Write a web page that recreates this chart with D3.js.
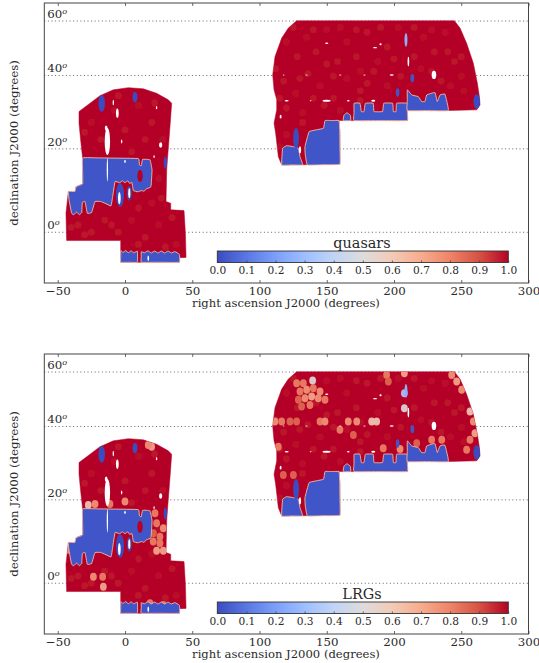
<!DOCTYPE html>
<html>
<head>
<meta charset="utf-8">
<script src="https://cdn.jsdelivr.net/npm/d3@7"></script>
<style>
  body { margin: 0; background: #fff; }
  svg { display: block; }
  text { font-family: "DejaVu Serif", serif; fill: #2a2a2a; }
</style>
</head>
<body>
<svg id="chart" width="539" height="663"></svg>
<script>
// everything is [ra degrees, sin(dec)] because the original y axis is linear in sin(dec)
const raTicks = [-50, 0, 50, 100, 150, 200, 250, 300];
const decTicks = [60, 40, 20, 0];
const barTicks = [0, 0.1, 0.2, 0.3, 0.4, 0.5, 0.6, 0.7, 0.8, 0.9, 1];
const coolwarm = ["#3b4cc0", "#5977e3", "#7b9ff9", "#9ebeff", "#c0d4f5", "#dddcdc", "#f2cbb7", "#f7ac8e", "#ee8468", "#d65244", "#b40426"];

const footprintSouth = [[-34.2,.495],[-26,.529],[-18.6,.56],[-8.7,.584],[2.5,.593],[13.6,.588],[23.5,.57],[32.2,.543],[34.7,.529],[34,.474],[32.7,.379],[31.7,.31],[31,.256],[30.5,.126],[34,.119],[34,.092],[43.9,.089],[44.9,-.004],[45.4,-.103],[40.4,-.104],[40.4,-.123],[-3.2,-.123],[-3.2,-.034],[-43.4,-.034],[-43.9,.078],[-42.1,.167],[-37.2,.167],[-36.4,.187],[-31.5,.198],[-31.5,.303],[-33,.379],[-34.2,.447]];
const footprintNorth = [[127.6,.867],[244.9,.867],[249.1,.837],[254,.775],[259,.693],[262,.611],[263.5,.556],[264,.522],[261.5,.502],[240.4,.499],[209.9,.499],[209.9,.458],[159.1,.458],[159.8,.406],[159.8,.279],[116.5,.276],[114,.31],[112,.406],[110.8,.447],[112.8,.502],[112.8,.543],[110.8,.584],[109.8,.645],[111.5,.72],[116.5,.796],[121.4,.837]];

const blueRegions = [
  [[-31.5,.305],[-20,.305],[-8,.304],[9.9,.302],[10.7,.276],[12.1,.273],[13.1,.299],[18.6,.297],[20.1,.256],[19.3,.187],[16,.178],[14,.168],[12.4,.171],[9.5,.166],[6.2,.171],[5.2,.204],[3.5,.2],[2,.211],[0,.203],[-2,.211],[-4,.203],[-7.4,.208],[-9.2,.146],[-10.4,.108],[-14.9,.119],[-18,.126],[-22.3,.126],[-24.8,.081],[-28,.078],[-29.7,.126],[-31.7,.122],[-32.2,.081],[-34,.072],[-36,.083],[-38,.072],[-39.7,.078],[-41.6,.133],[-42.1,.167],[-37.2,.167],[-36.4,.187],[-31.5,.198],[-31.5,.25]],
  [[-3.2,-.075],[-1.5,-.083],[.5,-.075],[2.5,-.084],[4.5,-.076],[6.5,-.084],[9.2,-.078],[9.2,-.123],[3,-.123],[-3.2,-.123],[-3.2,-.1]],
  [[12.1,-.08],[14.5,-.084],[17,-.076],[19.5,-.085],[22,-.077],[24.5,-.085],[27,-.077],[29.5,-.085],[32,-.077],[34.5,-.085],[37,-.079],[40.4,-.09],[40.4,-.123],[25,-.123],[12.1,-.123],[12.1,-.1]],
  [[148.7,.458],[154,.458],[159.1,.458],[159.6,.42],[159.8,.35],[159.8,.279],[148,.277],[135.6,.276],[134,.32],[133.8,.351],[137,.413],[147.5,.426]],
  [[116.5,.276],[117.2,.344],[120.2,.355],[125.2,.351],[129,.344],[130.1,.31],[132.1,.276],[124,.276]],
  [[170.3,.529],[174.7,.529],[175.7,.495],[177.7,.495],[178.7,.529],[184.6,.529],[185.1,.495],[191.5,.495],[192.4,.529],[199,.529],[199.5,.495],[201.5,.495],[202,.529],[209.9,.529],[209.9,.49],[209.9,.458],[190,.458],[170.3,.458],[170.3,.49]],
  [[162.3,.458],[162.8,.48],[165,.49],[167.5,.48],[167.8,.458]],
  [[209.9,.584],[213.2,.563],[218.1,.556],[220.5,.536],[223,.536],[224.3,.563],[230.4,.573],[232.2,.536],[234.2,.563],[237.9,.566],[240.4,.499],[225,.499],[209.9,.499],[209.9,.54]]
];

// ellipses: ra, sin(dec), ra radius, sin(dec) radius, colour value
const spots = [
  [-3.7,.153,3,.048,0],[3.2,.16,1.7,.03,0],[11.2,.231,2,.025,1],[30,.286,1.2,.025,0],
  [-17.3,.529,2.4,.035,0],[7.4,.554,1.8,.021,0],[127.2,.385,2.2,.042,0],[261.5,.536,2.4,.03,0],
  [202.7,.573,1.3,.017,.02],[213.6,.632,1.4,.017,.02],[208.9,.789,1.1,.028,.25]
];
const holes = [
  [-13.1,.372,2,.055],[-14,.427,1,.011],[-13.1,.256,.5,.048],[-5.7,.488,1,.019],[-8.7,.532,.5,.011],
  [23.5,.511,.5,.007],[-2.5,.372,.5,.008],[26.5,.358,1.2,.011],[21.6,.31,.5,.006],[0,.29,.6,.006],
  [17.3,-.107,.6,.012],[-4.2,.14,1,.025],[3.2,.16,.8,.02],
  [229.7,.645,1.7,.017],[210.7,.7,.6,.02],[190,.771,.8,.004],[185.9,.757,1.5,.003],[150,.775,1.2,.003],
  [198.3,.645,1.5,.003],[149.9,.539,3,.004],[184.6,.539,1.5,.004],[115.7,.474,.7,.008],[130.1,.338,.8,.015],
  [120.2,.539,1.5,.003],[135,.645,1,.002],[160,.645,1,.002],[178,.645,1,.002],[118,.645,.7,.002],[166,.539,1,.003],[138,.539,.8,.002]
];

// lighter survey cells: ra, sin(dec), colour value
const quasarCells = [
  [120,.78,.94],[128,.72,.93],[135,.8,.94],[142,.74,.92],[150,.83,.94],[158,.7,.93],[165,.78,.94],[172,.72,.93],
  [180,.82,.93],[188,.7,.94],[195,.76,.93],[203,.84,.94],[215,.72,.93],[222,.8,.94],[230,.74,.92],[238,.82,.94],
  [245,.7,.93],[250,.64,.94],[118,.62,.93],[127,.57,.94],[136,.65,.92],[145,.6,.94],[155,.55,.93],[165,.63,.94],
  [175,.58,.93],[185,.66,.92],[195,.6,.94],[205,.64,.93],[220,.67,.94],[235,.62,.93],[252,.58,.94],[120,.51,.93],
  [132,.49,.94],[148,.52,.93],[160,.5,.94],[175,.54,.93],[120,.4,.94],[132,.45,.93],[115,.35,.94],
  [125,.84,.93],[140,.83,.92],[160,.84,.94],[172,.83,.93],[190,.84,.92],[215,.84,.93],[228,.83,.94],[112,.67,.93],[150,.69,.93],[175,.66,.94],
  [200,.71,.93],[240,.74,.93],[250,.72,.92],[228,.66,.93],[242,.6,.94],[130,.63,.93],[155,.64,.92],[180,.61,.93],[115,.55,.92],[140,.55,.93],
  [-25,.45,.94],[-18,.38,.93],[-8,.5,.94],[0,.42,.93],[10,.52,.94],[20,.45,.93],[28,.38,.94],[5,.33,.93],
  [25,.22,.94],[27,.14,.93],[-35,.03,.93],[-25,0,.92],[-15,.05,.93],[-5,0,.92],[5,.05,.94],[15,-.02,.93],
  [25,.03,.94],[35,.06,.93],[38,-.05,.94],[10,.1,.93],[20,.12,.94],[-10,.03,.93],[-30,.41,.93],[15,.38,.93],[-5,.56,.93],[22,.53,.92],[-30,-.01,.92],[-40,.02,.93],[30,-.06,.93],[10,-.05,.92]
];
const lrgCells = [
  [127.6,.82,.8],[132.6,.82,.8],[130.1,.786,.8],[135.1,.793,.75],[140,.8,.8],[145,.786,.75],[133.8,.759,.75],[138.8,.766,.7],
  [143.7,.759,.75],[148.7,.752,.8],[128.9,.752,.85],[137.5,.731,.8],[131.3,.725,.85],
  [111.5,.663,.75],[116.5,.663,.8],[122.7,.663,.85],[127.6,.663,.85],[145,.663,.8],[148.7,.663,.75],[166,.663,.75],[172.3,.663,.75],[183.4,.663,.6],[187.1,.663,.6],
  [139.5,.831,.5],[194.5,.854,.8],[195.8,.827,.85],[242.9,.854,.75],[246.6,.827,.7],[250.3,.793,.75],[256.5,.704,.6],[259,.663,.75],[260.2,.615,.7],[256.5,.588,.8],[254,.547,.8],
  [159.8,.629,.8],[169.8,.608,.85],[192,.554,.8],[204.5,.55,.75],[228,.588,.8],[235.5,.588,.8],[216.9,.574,.85],[114,.56,.8],[117.7,.444,.85],[125.2,.444,.85],
  [207.7,.718,.5],[207.7,.779,.35],[207.7,.861,.7],
  [19.8,.56,.7],[17.3,.567,.75],[-27.3,.321,.6],[-22.3,.325,.75],[0,.335,.75],[-11.2,.325,.8],[22.3,.287,.8],[23.5,.246,.8],[28.5,.226,.75],[21.1,.205,.85],[26,.191,.8],[21,.171,.8],[26,.164,.8],[23.5,.133,.7],[28.5,.133,.7],
  [-23.5,.027,.75],[-16.1,-.014,.7],[-16.6,.027,.8],[-42,.137,.75],[28.5,-.089,.8],[18.6,-.082,.8]
];

const frame = { left: 44.3, right: 528.5, height: 280 };
const barBox = { left: 217.3, right: 508.3, top: 248, height: 11.5 };

const svg = d3.select("#chart");
const color = d3.scaleLinear().domain(barTicks).range(coolwarm).clamp(true);
const x = d3.scaleLinear().domain([-60, 300]).range([frame.left, frame.right]);
const y = d3.scaleLinear().domain([-0.208, 0.94]).range([frame.height, 0]);
const barX = d3.scaleLinear().domain([0, 1]).range([barBox.left, barBox.right]);
const line = d3.line().x((d) => x(d[0])).y((d) => y(d[1])).curve(d3.curveLinearClosed);
const blobLine = d3.line().x((d) => x(d[0])).y((d) => y(d[1])).curve(d3.curveCardinalClosed.tension(0.75));
const footprints = [footprintSouth, footprintNorth];

const defs = svg.append("defs");
const gradient = defs.append("linearGradient").attr("id", "coolwarm");
barTicks.forEach((t, i) => gradient.append("stop").attr("offset", t).attr("stop-color", coolwarm[i]));
defs.append("filter").attr("id", "soft").append("feGaussianBlur").attr("stdDeviation", 0.45);
defs.append("clipPath").attr("id", "inside")
  .selectAll("path")
  .data(footprints)
  .join("path")
  .attr("d", line);

const ellipses = (g, rows, fill) => {
  g.selectAll(null)
    .data(rows)
    .join("ellipse")
    .attr("cx", (d) => x(d[0]))
    .attr("cy", (d) => y(d[1]))
    .attr("rx", (d) => x(d[0] + d[2]) - x(d[0]))
    .attr("ry", (d) => y(0) - y(d[3]))
    .attr("fill", fill);
};

const drawCells = (map, cells, size, opacity) => {
  map.append("g")
    .attr("clip-path", "url(#inside)")
    .attr("opacity", opacity)
    .selectAll("ellipse")
    .data(cells)
    .join("ellipse")
    .attr("cx", (d) => x(d[0]))
    .attr("cy", (d) => y(d[1]))
    .attr("rx", size[0])
    .attr("ry", size[1])
    .attr("fill", (d) => color(d[2]));
};

const drawPanel = (top, title, patches) => {
  const root = svg.append("g").attr("transform", `translate(0,${top})`);

  root.append("g")
    .selectAll("line")
    .data(decTicks)
    .join("line")
    .attr("x1", frame.left)
    .attr("x2", frame.right)
    .attr("y1", (d) => y(Math.sin((d * Math.PI) / 180)))
    .attr("y2", (d) => y(Math.sin((d * Math.PI) / 180)))
    .attr("stroke", "#555")
    .attr("stroke-width", 0.9)
    .attr("stroke-dasharray", "1,2.6");

  const map = root.append("g").attr("filter", "url(#soft)");

  map.selectAll("path.red")
    .data(footprints)
    .join("path")
    .attr("class", "red")
    .attr("d", line)
    .attr("fill", color(1))
    .attr("stroke", color(1))
    .attr("stroke-width", 0.5);

  // faint mottling from the survey plates, then the panel's own light patches
  drawCells(map, quasarCells, [3.4, 3.4], 0.3);
  drawCells(map, patches, [3.4, 4], 0.9);

  map.selectAll("path.blue")
    .data(blueRegions)
    .join("path")
    .attr("class", "blue")
    .attr("d", blobLine)
    .attr("fill", color(0.02))
    .attr("stroke", color(0.65))
    .attr("stroke-width", 0.9)
    .attr("stroke-linejoin", "round");

  ellipses(map.append("g"), spots, (d) => color(d[4]));
  ellipses(map.append("g"), holes, "#fff");

  // declination labels sit inside the frame, just above their grid line
  const decLabels = root.append("g")
    .selectAll("text")
    .data(decTicks)
    .join("text")
    .attr("x", x(-57.8))
    .attr("y", (d) => y(Math.sin((d * Math.PI) / 180)) - 3)
    .attr("font-size", 11.8)
    .text((d) => d);
  decLabels.append("tspan")
    .attr("dy", -4)
    .attr("font-size", 8.2)
    .attr("font-style", "italic")
    .text("o");

  const bottom = root.append("g")
    .attr("transform", `translate(0,${frame.height})`)
    .call(d3.axisBottom(x).tickValues(raTicks).tickSizeInner(-3).tickSizeOuter(0).tickPadding(3.5).tickFormat((d) => String(d).replace("-", "\u2212")));
  const upper = root.append("g")
    .call(d3.axisTop(x).tickValues(raTicks).tickSizeInner(-3).tickSizeOuter(0).tickFormat(""));
  [bottom, upper].forEach((axis) => {
    axis.select(".domain").remove();
    axis.selectAll("line").attr("stroke", "#444").attr("stroke-width", 0.8);
  });
  bottom.selectAll("text").attr("font-size", 11.8);

  root.append("rect")
    .attr("x", frame.left)
    .attr("y", 0)
    .attr("width", frame.right - frame.left)
    .attr("height", frame.height)
    .attr("fill", "none")
    .attr("stroke", "#444")
    .attr("stroke-width", 1);

  // colour bar
  root.append("rect")
    .attr("x", barBox.left)
    .attr("y", barBox.top)
    .attr("width", barBox.right - barBox.left)
    .attr("height", barBox.height)
    .attr("fill", "url(#coolwarm)")
    .attr("stroke", "#333")
    .attr("stroke-width", 0.9);

  const barAxis = root.append("g")
    .attr("transform", `translate(0,${barBox.top + barBox.height})`)
    .call(d3.axisBottom(barX).tickValues(barTicks).tickSizeInner(-2).tickSizeOuter(0).tickPadding(4).tickFormat(d3.format(".1f")));
  barAxis.select(".domain").remove();
  barAxis.selectAll("line").attr("stroke", "#333").attr("stroke-width", 0.7);
  barAxis.selectAll("text").attr("font-size", 10.6);

  root.append("text")
    .attr("x", 362)
    .attr("y", barBox.top - 3)
    .attr("text-anchor", "middle")
    .attr("font-size", 14.4)
    .text(title);

  root.append("text")
    .attr("x", 286)
    .attr("y", frame.height + 23.5)
    .attr("text-anchor", "middle")
    .attr("font-size", 11.6)
    .text("right ascension J2000 (degrees)");

  root.append("text")
    .attr("transform", `translate(18,${frame.height / 2}) rotate(-90)`)
    .attr("text-anchor", "middle")
    .attr("font-size", 11.8)
    .text("declination J2000 (degrees)");
};

drawPanel(3, "quasars", []);
drawPanel(354, "LRGs", lrgCells);
</script>
</body>
</html>
